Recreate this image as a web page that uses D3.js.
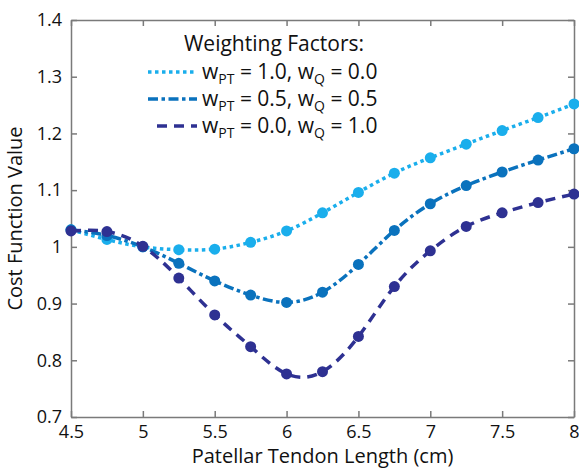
<!DOCTYPE html>
<html>
<head>
<meta charset="utf-8">
<title></title>
<script src="https://cdnjs.cloudflare.com/ajax/libs/d3/7.8.5/d3.min.js"></script>
<style>
  body { margin: 0; background: #fff; }
  text { font-family: "Open Sans", "Noto Sans", sans-serif; fill: #111; }
  .axis path, .axis line { stroke: #7a7a7a; stroke-width: 1.5; fill: none; }
  .axis text { font-size: 18px; }
</style>
</head>
<body>
<script>
// data
var lengths = [4.5, 4.75, 5, 5.25, 5.5, 5.75, 6, 6.25, 6.5, 6.75, 7, 7.25, 7.5, 7.75, 8];
var costPT  = [1.030, 1.013, 1.000, 0.995, 0.996, 1.008, 1.028, 1.060, 1.096, 1.130, 1.157, 1.181, 1.205, 1.228, 1.252];
var costMid = [1.030, 1.020, 1.000, 0.971, 0.940, 0.915, 0.902, 0.920, 0.969, 1.029, 1.076, 1.108, 1.132, 1.153, 1.173];
var costQ   = [1.028, 1.027, 1.001, 0.945, 0.880, 0.824, 0.776, 0.780, 0.842, 0.930, 0.993, 1.036, 1.060, 1.078, 1.093];
var xTicks = [4.5, 5, 5.5, 6, 6.5, 7, 7.5, 8];
var yTicks = [0.7, 0.8, 0.9, 1.0, 1.1, 1.2, 1.3, 1.4];

var series = [
  {vals: costPT,  color: "#1aaeec", dash: "3.5,3.5", pt: "1.0", q: "0.0"},
  {vals: costMid, color: "#0a72bd", dash: "10,3.5,3.5,3.5", pt: "0.5", q: "0.5"},
  {vals: costQ,   color: "#2e3192", dash: "10,7", pt: "0.0", q: "1.0"}
];

var width = 579, height = 470;
var margin = {left: 71, right: 5, top: 20, bottom: 53};
var w = width - margin.left - margin.right;
var h = height - margin.top - margin.bottom;

var svg = d3.select("body").append("svg")
  .attr("width", width)
  .attr("height", height);

var g = svg.append("g")
  .attr("transform", "translate(" + margin.left + "," + margin.top + ")");

var x = d3.scaleLinear().domain([4.5, 8]).range([0, w]);
var y = d3.scaleLinear().domain([0.7, 1.4]).range([h, 0]);

function fmtY(d) { return d === 1 ? "1" : d3.format(".1f")(d); }
function fmtX(d) { return d % 1 === 0 ? d3.format("d")(d) : d3.format(".1f")(d); }

// axes (box with inward ticks)
g.append("g").attr("class", "axis")
  .attr("transform", "translate(0," + h + ")")
  .call(d3.axisBottom(x).tickValues(xTicks).tickSizeInner(-6).tickSizeOuter(0).tickPadding(8).tickFormat(fmtX));
g.append("g").attr("class", "axis")
  .call(d3.axisTop(x).tickValues(xTicks).tickSizeInner(-6).tickSizeOuter(0).tickFormat(""));
g.append("g").attr("class", "axis")
  .call(d3.axisLeft(y).tickValues(yTicks).tickSizeInner(-6).tickSizeOuter(0).tickPadding(9).tickFormat(fmtY));
g.append("g").attr("class", "axis")
  .attr("transform", "translate(" + w + ",0)")
  .call(d3.axisRight(y).tickValues(yTicks).tickSizeInner(-6).tickSizeOuter(0).tickFormat(""));

// lines
var line = d3.line()
  .x(function(d, i) { return x(lengths[i]); })
  .y(function(d) { return y(d); })
  .curve(d3.curveNatural);

series.forEach(function(s) {
  g.append("path")
    .attr("d", line(s.vals))
    .attr("fill", "none")
    .attr("stroke", s.color)
    .attr("stroke-width", 3.5)
    .attr("stroke-dasharray", s.dash);
  g.selectAll(null)
    .data(s.vals)
    .enter()
    .append("circle")
    .attr("cx", function(d, i) { return x(lengths[i]); })
    .attr("cy", function(d) { return y(d); })
    .attr("r", 5.5)
    .attr("fill", s.color);
});

// legend
var leg = svg.append("g");
leg.append("text")
  .attr("x", 274).attr("y", 51)
  .attr("text-anchor", "middle")
  .style("font-size", "21px")
  .text("Weighting Factors:");

series.forEach(function(s, i) {
  var ly = 72 + i * 27;
  leg.append("line")
    .attr("x1", i === 2 ? 157 : 148).attr("x2", 197)
    .attr("y1", ly).attr("y2", ly)
    .attr("stroke", s.color)
    .attr("stroke-width", 3.5)
    .attr("stroke-dasharray", s.dash);
  var t = leg.append("text")
    .attr("x", 202).attr("y", ly + 7)
    .style("font-size", "21px");
  t.append("tspan").text("w");
  t.append("tspan").attr("dy", 5).style("font-size", "14px").text("PT");
  t.append("tspan").attr("dy", -5).text(" = " + s.pt + ", w");
  t.append("tspan").attr("dy", 5).style("font-size", "14px").text("Q");
  t.append("tspan").attr("dy", -5).text(" = " + s.q);
});

// axis labels
svg.append("text")
  .attr("x", margin.left + w / 2).attr("y", 463)
  .attr("text-anchor", "middle")
  .style("font-size", "20px")
  .text("Patellar Tendon Length (cm)");

svg.append("text")
  .attr("transform", "translate(22," + (margin.top + h / 2) + ") rotate(-90)")
  .attr("text-anchor", "middle")
  .style("font-size", "20px")
  .text("Cost Function Value");
</script>
</body>
</html>
